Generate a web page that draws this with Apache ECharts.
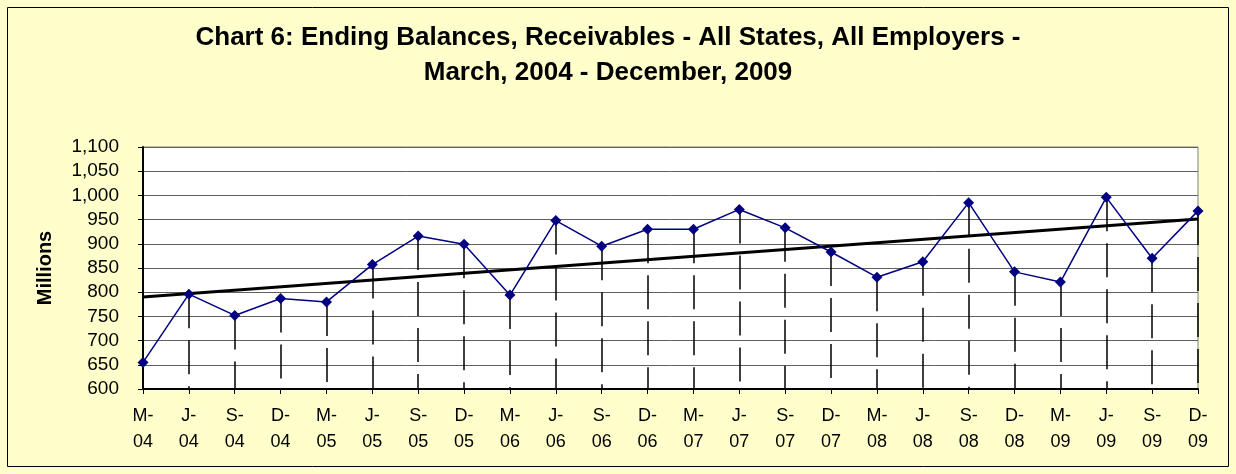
<!DOCTYPE html>
<html>
<head>
<meta charset="utf-8">
<title>Chart 6</title>
<script src="https://cdn.jsdelivr.net/npm/echarts@6/dist/echarts.min.js"></script>
<style>
  html, body { margin: 0; padding: 0; background: #fff; }
  #chart { width: 1236px; height: 474px; }
</style>
</head>
<body>
<div id="chart"></div>
<script>
  // quarter labels (month initial - year)
  var categories = [
    'M-04', 'J-04', 'S-04', 'D-04',
    'M-05', 'J-05', 'S-05', 'D-05',
    'M-06', 'J-06', 'S-06', 'D-06',
    'M-07', 'J-07', 'S-07', 'D-07',
    'M-08', 'J-08', 'S-08', 'D-08',
    'M-09', 'J-09', 'S-09', 'D-09'
  ];
  // ending balances, millions
  var balances = [
    655, 796, 752, 787,
    780, 857, 916, 899,
    794, 948, 895, 930,
    930, 971, 933, 883,
    831, 863, 985, 842,
    821, 996, 870, 968
  ];
  // linear trend, read at first and last quarter
  var trendStart = 790;
  var trendEnd = 951;

  var yMin = 600, yMax = 1100, yStep = 50;

  var chart = echarts.init(document.getElementById('chart'));

  var dropLines = balances.map(function (v, i) {
    return [
      { coord: [categories[i], v] },
      { coord: [categories[i], yMin] }
    ];
  });

  var titleFont = 'bold 26px "Liberation Sans", Arial, sans-serif';

  chart.setOption({
    backgroundColor: '#FFFFCC',
    animation: false,
    textStyle: { fontFamily: 'Liberation Sans, Arial, sans-serif' },
    graphic: [
      {
        type: 'rect',
        shape: { x: 7.5, y: 7.5, width: 1221, height: 459 },
        style: { fill: 'none', stroke: '#000', lineWidth: 1 },
        silent: true
      },
      {
        type: 'text',
        x: 608, y: 38,
        style: {
          text: 'Chart 6: Ending Balances, Receivables - All States, All Employers -',
          font: titleFont,
          fill: '#000', align: 'center', verticalAlign: 'middle'
        }
      },
      {
        type: 'text',
        x: 608, y: 73,
        style: {
          text: 'March, 2004 - December, 2009',
          font: titleFont,
          fill: '#000', align: 'center', verticalAlign: 'middle'
        }
      }
    ],
    grid: {
      left: 143,
      right: 38,
      top: 147,
      bottom: 85,
      show: true,
      backgroundColor: '#fff',
      borderColor: '#808080',
      borderWidth: 1
    },
    xAxis: {
      type: 'category',
      data: categories,
      boundaryGap: false,
      axisLine: { lineStyle: { color: '#000', width: 2 } },
      axisTick: { show: true, length: 5, lineStyle: { color: '#000' } },
      axisLabel: {
        color: '#000',
        fontSize: 18,
        lineHeight: 26,
        margin: 14,
        interval: 0,
        formatter: function (v) { return v.replace('-', '-\n'); }
      },
      splitLine: { show: false }
    },
    yAxis: {
      type: 'value',
      min: yMin,
      max: yMax,
      interval: yStep,
      name: 'Millions',
      nameLocation: 'middle',
      nameGap: 88,
      nameRotate: 90,
      nameTextStyle: { color: '#000', fontSize: 20, fontWeight: 'bold' },
      axisLine: { show: true, lineStyle: { color: '#000', width: 2 } },
      axisTick: { show: true, length: 5, lineStyle: { color: '#000' } },
      axisLabel: {
        color: '#000',
        fontSize: 19,
        margin: 24,
        formatter: function (v) { return v.toLocaleString('en-US'); }
      },
      splitLine: { show: true, lineStyle: { color: '#606060', width: 1 } }
    },
    series: [
      {
        name: 'Balance',
        type: 'line',
        data: balances,
        z: 5,
        symbol: 'diamond',
        symbolSize: 11,
        itemStyle: { color: '#000080' },
        lineStyle: { color: '#000080', width: 1.5 },
        markLine: {
          silent: true,
          symbol: 'none',
          label: { show: false },
          lineStyle: { color: '#000', width: 1.5, type: [34, 12] },
          data: dropLines,
          z: 2
        }
      },
      {
        name: 'Trend',
        type: 'line',
        data: [[categories[0], trendStart], [categories[categories.length - 1], trendEnd]],
        symbol: 'none',
        z: 4,
        lineStyle: { color: '#000', width: 3 }
      }
    ]
  });
</script>
</body>
</html>
